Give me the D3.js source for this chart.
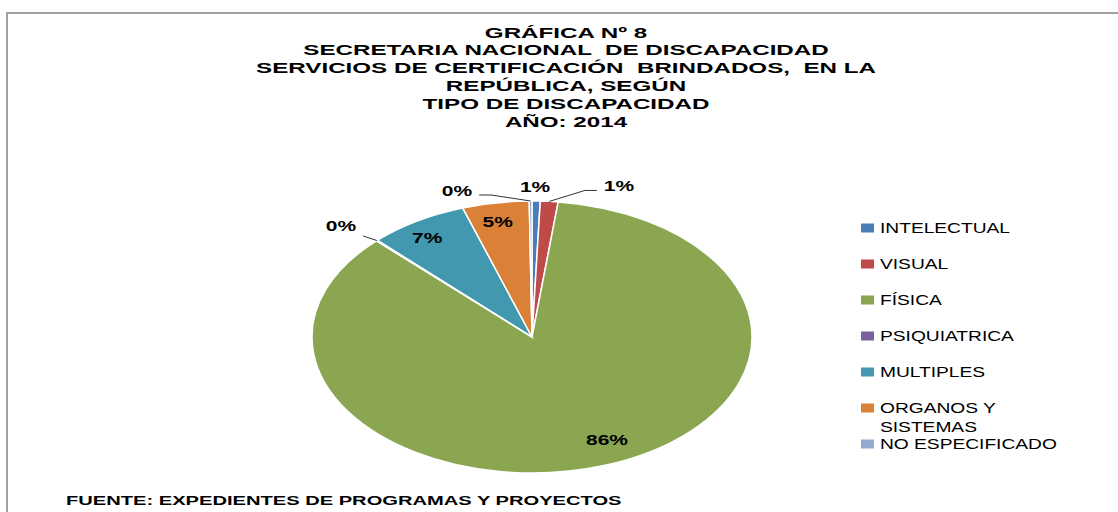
<!DOCTYPE html>
<html><head><meta charset="utf-8">
<script src="https://cdn.jsdelivr.net/npm/d3@7"></script>
<style>html,body{margin:0;padding:0;background:#fff;overflow:hidden} svg{display:block} text{white-space:pre}</style>
</head><body>
<svg id="chart" width="1118" height="512"></svg>
<script>
// ---- data ----
const titleLines = ["GRÁFICA Nº 8", "SECRETARIA NACIONAL  DE DISCAPACIDAD", "SERVICIOS DE CERTIFICACIÓN  BRINDADOS,  EN LA", "REPÚBLICA, SEGÚN", "TIPO DE DISCAPACIDAD", "AÑO: 2014"];
const categories = ["INTELECTUAL", "VISUAL", "FÍSICA", "PSIQUIATRICA", "MULTIPLES", "ORGANOS Y SISTEMAS", "NO ESPECIFICADO"];
const values = [0.6, 1.3, 85.6, 0.1, 7.3, 4.9, 0.2];
const colors = ["#4A7EBB", "#BE4B48", "#8AA650", "#7D60A0", "#4198AF", "#DA8137", "#93A9CF"];
const footerText = "FUENTE: EXPEDIENTES DE PROGRAMAS Y PROYECTOS";

// ---- layout ----
const svg = d3.select("#chart");
const W = 1118, H = 512;
const FONT = "'Liberation Sans', Arial, sans-serif";

// frame (partially visible border)
svg.append("line").attr("x1", 7).attr("y1", 13).attr("x2", W).attr("y2", 13).attr("stroke", "#a0a0a0").attr("stroke-width", 2);
svg.append("line").attr("x1", 7).attr("y1", 12).attr("x2", 7).attr("y2", H).attr("stroke", "#a0a0a0").attr("stroke-width", 2);

function stretchedText(parent, str, x, y, size, weight, sx, anchor) {
  return parent.append("text")
    .attr("transform", `translate(${x},${y}) scale(${sx},1)`)
    .attr("text-anchor", anchor || "start")
    .attr("xml:space", "preserve")
    .attr("font-family", FONT).attr("font-size", size).attr("font-weight", weight)
    .attr("fill", "#000").text(str);
}

// title
const titleX = 566;
titleLines.forEach((t, i) => stretchedText(svg, t, titleX, 37.5 + i * 17.8, 15.5, "bold", 1.56, "middle"));

// pie
const cx = 532, cy = 337, ry = 136, rx = 220;
const total = d3.sum(values);
const pct = d3.format(".0%");
const arcs = d3.pie().sort(null).value(d => d)(values);
const arcGen = d3.arc().innerRadius(0).outerRadius(ry);
const gPie = svg.append("g").attr("transform", `translate(${cx},${cy}) scale(${rx / ry},1)`);
gPie.selectAll("path").data(arcs).join("path")
  .attr("d", arcGen)
  .attr("fill", (d, i) => colors[i])
  .attr("stroke", "#fff").attr("stroke-width", 1.5)
  .attr("vector-effect", "non-scaling-stroke");

function pt(angle, r) {
  return [cx + rx * r * Math.sin(angle), cy - ry * r * Math.cos(angle)];
}

// label placement config: small slices go outside, nudged apart with leader lines
const labelNudge = [[-1.5, 0], [68, -1.4], [16, -2], [-20.4, -4.9], [-6, 1], [-3, 0], [-73.5, 3.6]];
const gLab = svg.append("g");
arcs.forEach((a, i) => {
  const mid = (a.startAngle + a.endAngle) / 2;
  const share = values[i] / total;
  const txt = pct(share);
  const b = share >= 0.03 ? pt(mid, share > 0.5 ? 0.82 : 0.86) : pt(mid, 1.1);
  const p = [b[0] + labelNudge[i][0], b[1] + labelNudge[i][1]];
  const t = stretchedText(gLab, txt, p[0], p[1] + 5, 14, "bold", 1.5, "middle");
  const nx = labelNudge[i][0];
  if (share < 0.03 && Math.abs(nx) > 5) {
    const half = t.node().getComputedTextLength() * 1.5 / 2;
    const edge = pt(mid, 1.0);
    const dir = nx > 0 ? -1 : 1;
    const sx0 = p[0] + dir * (half + 7), sy0 = p[1] + 4;
    let pts;
    if (Math.abs(edge[0] - sx0) > 30) pts = [[sx0, sy0], [sx0 + dir * 12, sy0], edge];
    else pts = [[sx0, sy0 + 6], edge];
    gLab.append("path").attr("d", d3.line()(pts))
      .attr("fill", "none").attr("stroke", "#333").attr("stroke-width", 1);
  }
});

// legend
const legX = 861, legY0 = 228, legStep = 36;
const gLeg = svg.append("g");
categories.forEach((c, i) => {
  const y = legY0 + i * legStep;
  gLeg.append("rect").attr("x", legX).attr("y", y - 4.5).attr("width", 13).attr("height", 9).attr("fill", colors[i]);
  const words = c.split(" ");
  const lines = [];
  let cur = "";
  words.forEach(w => {
    const test = cur ? cur + " " + w : w;
    if (test.length > 15 && cur) { lines.push(cur); cur = w; } else cur = test;
  });
  lines.push(cur);
  lines.forEach((l, j) => stretchedText(gLeg, l, 880, y + 5 + j * 19, 14, "normal", 1.37, "start"));
});

// footer
const ft = stretchedText(svg, footerText, 66, 505, 13.5, "bold", 1, "start");
const fw = ft.node().getComputedTextLength();
ft.attr("transform", `translate(66,505) scale(${556 / fw},1)`);
</script>
</body></html>
